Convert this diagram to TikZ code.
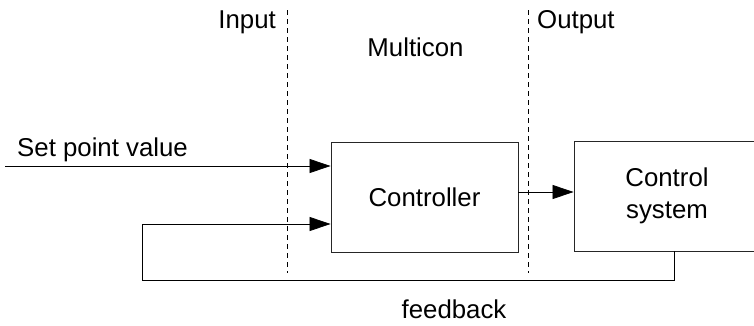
\documentclass[tikz,border=0pt]{standalone}
\usepackage{fontspec}
\setmainfont{Liberation Sans}
\usetikzlibrary{arrows.meta}
\begin{document}
\begin{tikzpicture}[x=1pt,y=-1pt,
  every node/.style={font=\fontsize{25.8}{32}\selectfont, inner sep=0pt},
  lbl/.style={anchor=base},
  blockbox/.style={draw=black!85, line width=0.9pt, minimum height=110pt, align=center},
  arr/.style={line width=0.8pt, -{Triangle[length=21pt,width=14pt]}},
  sep/.style={line width=0.6pt, dash pattern=on 5pt off 4pt}]
\clip (0,0) rectangle (754,325);
\fill[white] (0,0) rectangle (754,325);
% separators
\coordinate (s1t) at (287,10); \coordinate (s1b) at (287,273);
\coordinate (s2t) at (528,10); \coordinate (s2b) at (528,273);
\draw[sep] (s1t) -- (s1b);
\draw[sep] (s2t) -- (s2b);
% labels
\node[lbl, anchor=base east] (inp) at (276,28) {Input};
\node[lbl, anchor=base west] (outp) at (537,28) {Output};
\node[lbl] (mc) at (415.5,56) {Multicon};
\node[lbl, anchor=base west] (spv) at (17,156) {Set point value};
% blocks
\node[blockbox, minimum width=187pt] (ctrl) at (424.5,197) {Controller};
\node[blockbox, minimum width=186pt] (sys) at (667,196) {Control\\system};
% connectors
\coordinate (sp) at (5,166);
\draw[arr] (sp) -- (sp -| ctrl.west);
\draw[arr] ([yshift=5pt]ctrl.east) -- ([yshift=5pt]ctrl.east -| sys.west);
\coordinate (fbl) at (142,280);
\draw[arr] ([xshift=7pt]sys.south) |- (fbl) |- ([yshift=-27pt]ctrl.west);
\node[lbl] (fb) at (454,318) {feedback};
\end{tikzpicture}
\end{document}
